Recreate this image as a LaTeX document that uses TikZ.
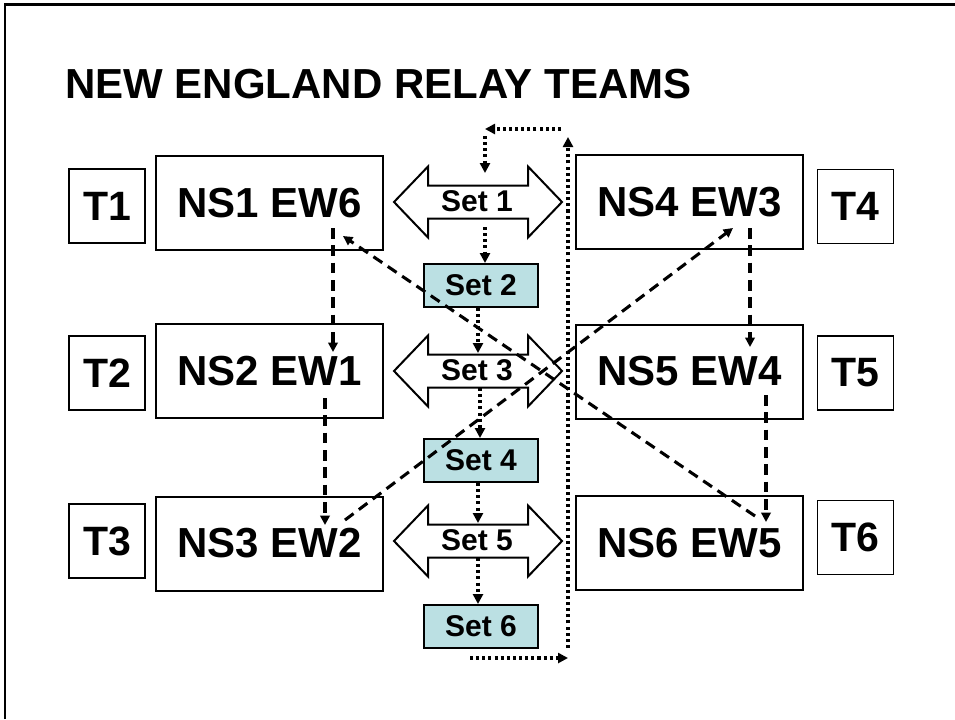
\documentclass[tikz,border=0pt]{standalone}
\usepackage{fontspec}
\setmainfont{Liberation Sans}
\usetikzlibrary{arrows.meta,calc}
\definecolor{setfill}{RGB}{187,224,227}
\tikzset{
  pairbox/.style={draw=black,line width=1.5pt,fill=white,minimum width=170.25pt,minimum height=70.5pt,inner sep=0pt,
    font=\fontsize{31.5pt}{34pt}\selectfont\bfseries},
  teambox/.style={draw=black,line width=1.2pt,fill=white,minimum width=57pt,minimum height=55.5pt,inner sep=0pt,
    font=\fontsize{30.75pt}{33pt}\selectfont\bfseries},
  setbox/.style={draw=black,line width=1.5pt,fill=setfill,minimum width=85.5pt,minimum height=32.25pt,inner sep=0pt,
    font=\fontsize{22.5pt}{24pt}\selectfont\bfseries},
  setlabel/.style={inner sep=0pt,font=\fontsize{22.5pt}{24pt}\selectfont\bfseries},
  arrowshape/.style={draw=black,line width=1.5pt,fill=white,line join=miter},
  dasharrow/.style={line width=2.3pt,dash pattern=on 8pt off 5pt,-{Triangle[length=7pt,width=7pt]}},
  dotarrow/.style={line width=2.3pt,dash pattern=on 2.3pt off 2.3pt,-{Triangle[length=7.5pt,width=7.5pt]}},
}
\newcommand\dblarrowshape[2]{%
  \draw[arrowshape,shift={(#1,#2)}] (-84,0) -- (-50,-35.5) -- (-50,-16.5) -- (50,-16.5) -- (50,-35.5) -- (84,0)
    -- (50,35.5) -- (50,16.5) -- (-50,16.5) -- (-50,35.5) -- cycle;}
\begin{document}
\begin{tikzpicture}[x=0.75pt,y=-0.75pt]
\useasboundingbox (0,0) rectangle (955,719);
% frame
\draw[line width=2pt] (5,719) -- (5,4.5) -- (955,4.5);
% title
\node[anchor=base west,inner sep=0pt,font=\fontsize{31.5pt}{34pt}\selectfont\bfseries] (title) at (65,98)
  {NEW ENGLAND RELAY TEAMS};
% team boxes
\node[teambox] (t1) at (107,206) {T1};
\node[teambox] (t2) at (107,373) {T2};
\node[teambox] (t3) at (107,541) {T3};
\node[teambox] (t4) at (855.5,206.5) {T4};
\node[teambox] (t5) at (855.5,373) {T5};
\node[teambox] (t6) at (855.5,537.5) {T6};
% pair boxes
\node[pairbox] (ns1) at (269.5,203) {NS1 EW6};
\node[pairbox] (ns2) at (269.5,371) {NS2 EW1};
\node[pairbox] (ns3) at (269.5,543.5) {NS3 EW2};
\node[pairbox] (ns4) at (689.5,202) {NS4 EW3};
\node[pairbox] (ns5) at (689.5,371.5) {NS5 EW4};
\node[pairbox] (ns6) at (689.5,543) {NS6 EW5};
% double arrows
\dblarrowshape{478}{202}
\dblarrowshape{478}{371}
\dblarrowshape{478}{541}
\node[setlabel] (s1) at (477,201) {Set 1};
\node[setlabel] (s3) at (477,370) {Set 3};
\node[setlabel] (s5) at (477,540) {Set 5};
% set boxes
\node[setbox] (s2) at (481,285.5) {Set 2};
\node[setbox] (s4) at (481,460.5) {Set 4};
\node[setbox] (s6) at (481,626.5) {Set 6};
% loop coordinates
\coordinate (lpa) at (470,658);
\coordinate (lpb) at (568,658);
\coordinate (lpc) at (568,648);
\coordinate (lpd) at (568,137);
\coordinate (lpe) at (561,129);
\coordinate (lpf) at (485,129);
\coordinate (lpg) at (485,136);
% dotted arrows
\draw[dotarrow] (lpa) -- (lpb);
\draw[dotarrow] (lpc) -- (lpd);
\draw[dotarrow] (lpe) -- (lpf);
\draw[dotarrow] (lpg) -- (485,173);
\draw[dotarrow] (485,227) -- (485,0 |- s2.north);
\draw[dotarrow] (478,0 |- s2.south) -- (478,353);
\draw[dotarrow] (480,388) -- (480,0 |- s4.north);
\draw[dotarrow] (478,0 |- s4.south) -- (478,523);
\draw[dotarrow] (478,558) -- (478,0 |- s6.north);
% dashed arrows
\draw[dasharrow] ($(ns1.center)+(63.5,25)$) -- ($(ns2.center)+(63.5,-19)$);
\draw[dasharrow] ($(ns2.center)+(55.5,27)$) -- ($(ns3.center)+(55.5,-18.5)$);
\draw[dasharrow] ($(ns3.center)+(75.5,-23.5)$) -- ($(ns4.center)+(43.5,26)$);
\draw[dasharrow] ($(ns4.center)+(60.5,26)$) -- ($(ns5.center)+(60.5,-24.5)$);
\draw[dasharrow] ($(ns5.center)+(76.5,23.5)$) -- ($(ns6.center)+(76.5,-21)$);
\draw[dasharrow] ($(ns6.center)+(65.5,-27)$) -- ($(ns1.center)+(73.5,33)$);
\end{tikzpicture}
\end{document}
